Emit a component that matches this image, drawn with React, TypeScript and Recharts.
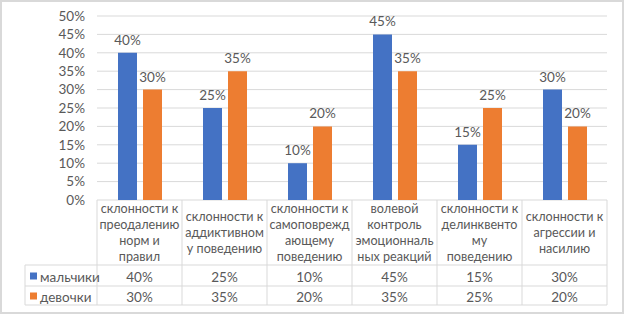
import { Bar, BarChart, CartesianGrid, LabelList, XAxis, YAxis } from "recharts";

const categories = [
  "склонности к\nпреодалению\nнорм и\nправил",
  "склонности к\nаддиктивном\nу поведению",
  "склонности к\nсамоповрежд\nающему\nповедению",
  "волевой\nконтроль\nэмоционналь\nных реакций",
  "склонности к\nделинквенто\nму\nповедению",
  "склонности к\nагрессии и\nнасилию",
];
const boys = [0.4, 0.25, 0.1, 0.45, 0.15, 0.3];
const girls = [0.3, 0.35, 0.2, 0.35, 0.25, 0.2];
const yTicks = [0, 0.05, 0.1, 0.15, 0.2, 0.25, 0.3, 0.35, 0.4, 0.45, 0.5];
const seriesNames = ["мальчики", "девочки"];

const BLUE = "#4472C4";
const ORANGE = "#ED7D31";
const TEXT = "#595959";
const LINE = "#d9d9d9";
const FONT = "Lato, 'Liberation Sans', sans-serif";
const FS = 13.5;
const HEAD_FS = 12.6;

const W = 624;
const H = 314;
const PLOT_LEFT = 97;
const PLOT_RIGHT = 607;
const PLOT_TOP = 16;
const PLOT_BOTTOM = 200;
const BAND = (PLOT_RIGHT - PLOT_LEFT) / categories.length;
const HEADER_BOTTOM = 265;
const ROW1_BOTTOM = 286;
const ROW2_BOTTOM = 305;
const TABLE_LEFT = 25;

const data = categories.map((c, i) => ({ name: c, boys: boys[i], girls: girls[i] }));

const pct = (v: number) => `${Math.round(v * 100)}%`;

function TableTick(props: any) {
  const { x, y, payload } = props;
  const i = payload.index;
  const left = x - BAND / 2;
  const right = x + BAND / 2;
  const lines = String(payload.value).split("\n");
  const lineH = 15.7;
  const headerMid = (y + HEADER_BOTTOM) / 2;
  const startY = headerMid - ((lines.length - 1) * lineH) / 2;
  const rows = [
    { vals: boys, color: BLUE, top: HEADER_BOTTOM, bottom: ROW1_BOTTOM },
    { vals: girls, color: ORANGE, top: ROW1_BOTTOM, bottom: ROW2_BOTTOM },
  ];
  return (
    <g>
      <line x1={left} x2={left} y1={y} y2={ROW2_BOTTOM} stroke={LINE} />
      {i === categories.length - 1 && (
        <line x1={right} x2={right} y1={y} y2={ROW2_BOTTOM} stroke={LINE} />
      )}
      {lines.map((ln, k) => (
        <text
          key={k}
          x={x}
          y={startY + k * lineH}
          textAnchor="middle"
          dominantBaseline="central"
          fill={TEXT}
          fontSize={HEAD_FS}
          fontFamily={FONT}
        >
          {ln}
        </text>
      ))}
      {rows.map((r, k) => (
        <g key={k}>
          <line x1={i === 0 ? TABLE_LEFT : left} x2={right} y1={r.top} y2={r.top} stroke={LINE} />
          {k === 1 && (
            <line x1={i === 0 ? TABLE_LEFT : left} x2={right} y1={r.bottom} y2={r.bottom} stroke={LINE} />
          )}
          <text
            x={x}
            y={(r.top + r.bottom) / 2 + 1}
            textAnchor="middle"
            dominantBaseline="central"
            fill={TEXT}
            fontSize={FS}
            fontFamily={FONT}
          >
            {pct(r.vals[i])}
          </text>
          {i === 0 && (
            <g>
              <line x1={TABLE_LEFT} x2={TABLE_LEFT} y1={r.top} y2={r.bottom} stroke={LINE} />
              <rect x={30} y={(r.top + r.bottom) / 2 - 3} width={7} height={7} fill={r.color} />
              <text
                x={40}
                y={(r.top + r.bottom) / 2 + 1}
                dominantBaseline="central"
                fill={TEXT}
                fontSize={FS}
                fontFamily={FONT}
              >
                {seriesNames[k]}
              </text>
            </g>
          )}
        </g>
      ))}
    </g>
  );
}

export default function App() {
  return (
    <div
      style={{
        position: "fixed",
        left: 0,
        top: 0,
        width: W,
        height: H,
        background: "#fff",
      }}
    >
      <div
        style={{
          position: "absolute",
          left: 0,
          top: 0,
          width: 620,
          height: 310,
          border: `2px solid ${LINE}`,
          boxSizing: "content-box",
        }}
      />
      <BarChart
        width={W}
        height={H}
        data={data}
        margin={{ top: PLOT_TOP, right: W - PLOT_RIGHT, bottom: 0, left: 0 }}
        barSize={19}
        barGap={6}
        style={{ position: "absolute", left: 0, top: 0 }}
      >
        <CartesianGrid vertical={false} stroke={LINE} strokeWidth={1} />
        <XAxis
          dataKey="name"
          height={H - PLOT_BOTTOM}
          axisLine={false}
          tickLine={false}
          tickSize={0}
          tickMargin={0}
          interval={0}
          tick={<TableTick />}
        />
        <YAxis
          width={PLOT_LEFT}
          domain={[0, 0.5]}
          ticks={yTicks}
          interval={0}
          tickFormatter={pct}
          axisLine={false}
          tickLine={false}
          tickSize={0}
          tickMargin={12}
          tick={{ fill: TEXT, fontSize: FS, fontFamily: FONT }}
        />
        <Bar dataKey="boys" fill={BLUE} isAnimationActive={false}>
          <LabelList
            dataKey="boys"
            position="top"
            offset={8}
            formatter={(v: any) => pct(Number(v))}
            fill={TEXT}
            fontSize={FS}
            fontFamily={FONT}
          />
        </Bar>
        <Bar dataKey="girls" fill={ORANGE} isAnimationActive={false}>
          <LabelList
            dataKey="girls"
            position="top"
            offset={8}
            formatter={(v: any) => pct(Number(v))}
            fill={TEXT}
            fontSize={FS}
            fontFamily={FONT}
          />
        </Bar>
      </BarChart>
    </div>
  );
}
